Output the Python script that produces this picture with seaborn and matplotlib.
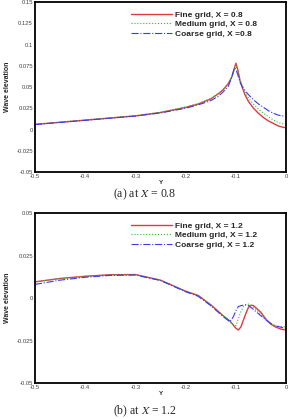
import matplotlib
matplotlib.use("Agg")
import matplotlib.pyplot as plt
from matplotlib.ticker import MultipleLocator, FuncFormatter
import seaborn as sns

# ---- panel (a): X = 0.8 ----
y_a = [-0.5, -0.45, -0.4, -0.35, -0.3, -0.25, -0.2, -0.175, -0.15, -0.135, -0.125,
       -0.115, -0.108, -0.103, -0.1, -0.096, -0.092, -0.087, -0.082, -0.075, -0.065,
       -0.055, -0.045, -0.035, -0.025, -0.015, -0.005, 0.0]
fine_a = [0.006, 0.0085, 0.011, 0.0135, 0.016, 0.02, 0.026, 0.030, 0.036, 0.042, 0.047,
          0.054, 0.062, 0.072, 0.078, 0.070, 0.058, 0.049, 0.041, 0.033, 0.025,
          0.019, 0.014, 0.010, 0.007, 0.004, 0.0025, 0.002]
medium_a = [0.006, 0.0087, 0.0112, 0.0138, 0.0163, 0.0203, 0.0265, 0.0305, 0.0365, 0.0425, 0.0475,
            0.0545, 0.062, 0.071, 0.076, 0.069, 0.059, 0.051, 0.044, 0.037, 0.030,
            0.024, 0.019, 0.015, 0.011, 0.008, 0.0065, 0.006]
coarse_a = [0.0058, 0.0083, 0.0108, 0.0133, 0.0158, 0.0195, 0.025, 0.029, 0.034, 0.039, 0.0445,
            0.051, 0.062, 0.0725, 0.071, 0.064, 0.056, 0.050, 0.046, 0.041, 0.035,
            0.030, 0.026, 0.022, 0.019, 0.0168, 0.0158, 0.0155]

# ---- panel (b): X = 1.2 ----
y_b = [-0.5, -0.45, -0.4, -0.35, -0.3, -0.25, -0.2, -0.175, -0.15, -0.125, -0.112,
       -0.105, -0.1, -0.095, -0.09, -0.085, -0.08, -0.075, -0.07, -0.065, -0.06,
       -0.05, -0.04, -0.03, -0.02, -0.01, 0.0]
fine_b = [0.0095, 0.0115, 0.0128, 0.0137, 0.0138, 0.0105, 0.004, 0.0015, -0.004, -0.0105, -0.0135,
          -0.016, -0.0178, -0.0188, -0.017, -0.013, -0.009, -0.0055, -0.0042, -0.0045, -0.0058,
          -0.0085, -0.0125, -0.0155, -0.0172, -0.0183, -0.0188]
medium_b = [0.0095, 0.0114, 0.0127, 0.0136, 0.0137, 0.0104, 0.0039, 0.0013, -0.004, -0.0105, -0.0138,
            -0.0158, -0.0163, -0.012, -0.008, -0.005, -0.0037, -0.0036, -0.0045, -0.0055, -0.0067,
            -0.0095, -0.013, -0.0155, -0.0165, -0.0168, -0.0169]
coarse_b = [0.008, 0.0105, 0.0122, 0.0133, 0.0135, 0.0103, 0.0037, 0.001, -0.0045, -0.011, -0.014,
            -0.011, -0.0075, -0.005, -0.0045, -0.0042, -0.0041, -0.0044, -0.0055, -0.0068, -0.008,
            -0.0105, -0.013, -0.015, -0.0165, -0.0172, -0.0178]

sns.set_style("white")
plt.rcParams["font.family"] = ["Liberation Sans", "DejaVu Sans"]
plt.rcParams["axes.unicode_minus"] = False
plt.rcParams["mathtext.fontset"] = "stix"

fig = plt.figure(figsize=(2.89, 4.19), dpi=100)
ax_a = fig.add_axes([0.121, 0.5895, 0.869, 0.4057])
ax_b = fig.add_axes([0.121, 0.0859, 0.869, 0.4057])

styles = [("#e0393e", "-", 1.0),
          ("#2fbf2f", ":", 0.8),
          ("#3a3af0", "-.", 0.8)]


def draw(ax, y, series, labels, ylim, caption, cap_y):
    for vals, lab, (col, ls, lw) in zip(series, labels, styles):
        sns.lineplot(x=y, y=vals, ax=ax, color=col, linestyle=ls, linewidth=lw,
                     label=lab, sort=False)
    ax.set_xlim(-0.5, 0)
    ax.set_ylim(*ylim)
    ax.xaxis.set_major_locator(MultipleLocator(0.1))
    ax.xaxis.set_minor_locator(MultipleLocator(0.02))
    ax.yaxis.set_major_locator(MultipleLocator(0.025))
    ax.yaxis.set_minor_locator(MultipleLocator(0.005))
    ax.xaxis.set_major_formatter(FuncFormatter(lambda v, p: "%g" % round(v, 3)))
    ax.yaxis.set_major_formatter(FuncFormatter(lambda v, p: "%g" % round(v, 4)))
    ax.tick_params(which="both", direction="in", top=False, right=False,
                   labelsize=4.2, labelcolor="#444444", pad=1.5)
    ax.tick_params(which="major", length=3, width=0.6)
    ax.tick_params(which="minor", length=1.6, width=0.5)
    for sp in ax.spines.values():
        sp.set_linewidth(1.3)
        sp.set_color("black")
    ax.set_xlabel("Y", fontsize=4.5, fontweight="bold", labelpad=1)
    ax.set_ylabel("Wave elevation", fontsize=5, fontweight="bold", labelpad=4)
    ax.legend(loc="upper left", bbox_to_anchor=(0.382, 0.948), frameon=False,
              prop={"size": 6, "weight": "bold"}, handlelength=4.9,
              handletextpad=0.4, labelspacing=0.2, borderpad=0, borderaxespad=0)
    fig.text(0.5, cap_y, caption, ha="center", va="center", fontsize=8.5,
             family="Liberation Serif")


draw(ax_a, y_a, [fine_a, medium_a, coarse_a],
     ["Fine grid, X = 0.8", "Medium grid, X = 0.8", "Coarse grid, X =0.8"],
     (-0.05, 0.15), "(a) at $X$ = 0.8", 1 - 194 / 419)
draw(ax_b, y_b, [fine_b, medium_b, coarse_b],
     ["Fine grid, X = 1.2", "Medium grid, X = 1.2", "Coarse grid, X = 1.2"],
     (-0.05, 0.05), "(b) at $X$ = 1.2", 1 - 411 / 419)

fig.savefig("out.png", dpi=100)
